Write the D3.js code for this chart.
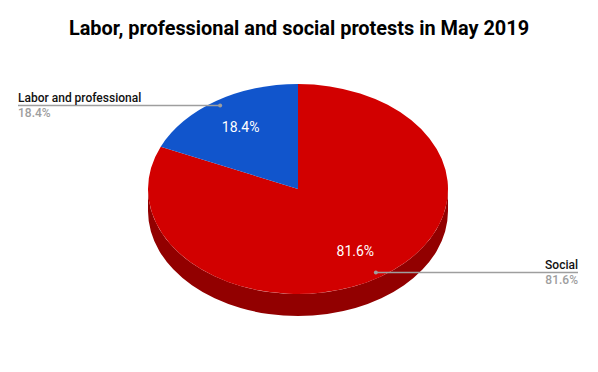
<!DOCTYPE html>
<html>
<head>
<meta charset="utf-8">
<script src="https://cdn.jsdelivr.net/npm/d3@7"></script>
<style>
  html, body { margin: 0; padding: 0; background: #fff; }
  text { font-family: Roboto, sans-serif; }
</style>
</head>
<body>
<div class="container"></div>
<script>
const categories = ['Social', 'Labor and professional'];
const values = [81.6, 18.4];
const colors = ['#d20000', '#1155cc'];

const WIDTH = 598;
const HEIGHT = 372;
const CX = 298;
const CY = 189;
const RX = 150;
const RY = 105;
const DEPTH = 22;
const SQUASH = RY / RX;

let translate = (x, y) => `translate(${x},${y})`;

let svg = d3.select('.container').append('svg')
    .attr('width', WIDTH)
    .attr('height', HEIGHT)
    .style('display', 'block');

svg.append('text')
    .attr('x', WIDTH / 2)
    .attr('y', 35)
    .attr('text-anchor', 'middle')
    .style('font-size', '19.9px')
    .style('font-weight', 700)
    .attr('fill', '#000')
    .text('Labor, professional and social protests in May 2019');

let pie = d3.pie().sort(null).value(d => d.value);
let slices = pie(categories.map((c, i) => ({name: c, value: values[i], color: colors[i]})));

let arc = d3.arc().innerRadius(0).outerRadius(RX);

// point on the flattened disc, r as a fraction of the radius
let onDisc = (angle, r) => [
    CX + RX * r * Math.sin(angle),
    CY - RY * r * Math.cos(angle)
];

// visible rim of the disc, lower half only
svg.append('path')
    .attr('d', `M${CX - RX},${CY} A${RX},${RY} 0 0 0 ${CX + RX},${CY} L${CX + RX},${CY + DEPTH} A${RX},${RY} 0 0 1 ${CX - RX},${CY + DEPTH} Z`)
    .attr('fill', '#920000');

svg.append('g')
    .attr('transform', `${translate(CX, CY)} scale(1,${SQUASH})`)
    .selectAll('path')
    .data(slices)
    .enter().append('path')
    .attr('d', arc)
    .attr('fill', d => d.data.color);

let midAngle = d => (d.startAngle + d.endAngle) / 2;

// percent labels inside the slices
svg.append('g').selectAll('text')
    .data(slices)
    .enter().append('text')
    .attr('x', d => onDisc(midAngle(d), 0.7)[0])
    .attr('y', d => onDisc(midAngle(d), 0.7)[1] + 5)
    .attr('text-anchor', 'middle')
    .attr('fill', '#fff')
    .style('font-size', '14px')
    .text(d => d.data.value.toFixed(1) + '%');

// leader lines and outside labels
let edgeX = d => d.data.name === 'Social' ? 578 : 18;
let anchor = d => d.data.name === 'Social' ? 'end' : 'start';

let leaders = svg.append('g').selectAll('g')
    .data(slices)
    .enter().append('g');

leaders.append('line')
    .attr('x1', d => onDisc(midAngle(d), 0.95)[0])
    .attr('y1', d => onDisc(midAngle(d), 0.95)[1])
    .attr('x2', edgeX)
    .attr('y2', d => onDisc(midAngle(d), 0.95)[1])
    .attr('stroke', '#9e9e9e')
    .attr('stroke-width', 1.5);

leaders.append('circle')
    .attr('cx', d => onDisc(midAngle(d), 0.95)[0])
    .attr('cy', d => onDisc(midAngle(d), 0.95)[1])
    .attr('r', 2)
    .attr('fill', '#9e9e9e');

leaders.append('text')
    .attr('x', edgeX)
    .attr('y', d => onDisc(midAngle(d), 0.95)[1] - 3.5)
    .attr('text-anchor', anchor)
    .attr('fill', '#111')
    .style('font-size', '12px')
    .style('font-weight', 500)
    .text(d => d.data.name);

leaders.append('text')
    .attr('x', edgeX)
    .attr('y', d => onDisc(midAngle(d), 0.95)[1] + 11.5)
    .attr('text-anchor', anchor)
    .attr('fill', '#9e9e9e')
    .style('font-size', '12px')
    .style('font-weight', 500)
    .text(d => d.data.value.toFixed(1) + '%');
</script>
</body>
</html>
